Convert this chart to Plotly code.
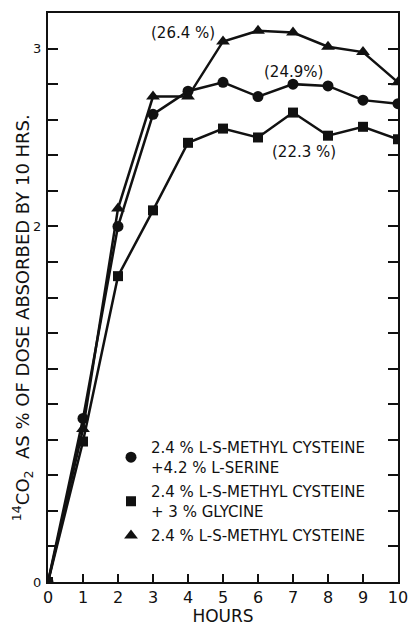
import plotly.graph_objects as go

hours = [0, 1, 2, 3, 4, 5, 6, 7, 8, 9, 10]
serine = [0, 0.92, 2.00, 2.63, 2.76, 2.81, 2.73, 2.80, 2.79, 2.71, 2.69]
glycine = [0, 0.79, 1.72, 2.09, 2.47, 2.55, 2.50, 2.64, 2.51, 2.56, 2.49]
cysteine = [0, 0.86, 2.10, 2.73, 2.73, 3.04, 3.10, 3.09, 3.01, 2.98, 2.81]

series_names = [
    "2.4 % L-S-METHYL CYSTEINE<br>+4.2 % L-SERINE",
    "2.4 % L-S-METHYL CYSTEINE<br>+ 3 % GLYCINE",
    "2.4 % L-S-METHYL CYSTEINE",
]
symbols = ["circle", "square", "triangle-up"]
marker_sizes = [11, 10, 12]

percent_labels = ["(26.4 %)", "(24.9%)", "(22.3 %)"]
percent_x = [3.86, 7.0, 7.3]
percent_y = [3.09, 2.87, 2.42]

x_ticks = list(range(0, 11))
y_tickvals = [0, 2, 3]
y_ticktext = ["0", "2", "3"]
y_title = "<sup>14</sup>CO<sub>2</sub>  AS % OF DOSE ABSORBED BY 10 HRS."
x_title = "HOURS"

FONT = "DejaVu Sans"
BLACK = "#111111"

fig = go.Figure()
for vals, name, sym, ms in zip([serine, glycine, cysteine], series_names, symbols, marker_sizes):
    fig.add_trace(go.Scatter(
        x=hours, y=vals, mode="lines+markers", showlegend=False,
        line=dict(color=BLACK, width=2.5),
        marker=dict(symbol=sym, size=ms, color=BLACK),
    ))
for i, (name, sym, ms) in enumerate(zip(series_names, symbols, marker_sizes)):
    fig.add_trace(go.Scatter(
        x=[None], y=[None], mode="markers", name=name, legendgroup=f"g{i}",
        marker=dict(symbol=sym, size=ms, color=BLACK),
    ))

for t, x, y in zip(percent_labels, percent_x, percent_y):
    fig.add_annotation(x=x, y=y, text=t, showarrow=False,
                       font=dict(family=FONT, size=15, color=BLACK))

# y-axis title placed as rotated text (shifted below plot centre as in reference)
fig.add_annotation(xref="paper", yref="paper", x=-0.072, y=0.465,
                   xanchor="center", yanchor="middle", textangle=-90,
                   text=y_title, showarrow=False,
                   font=dict(family=FONT, size=18, color=BLACK))

fig.update_layout(
    width=415, height=626,
    margin=dict(l=48, r=7, t=13, b=36),
    paper_bgcolor="white", plot_bgcolor="white",
    font=dict(family=FONT, color=BLACK),
    legend=dict(x=0.18, y=0.265, xanchor="left", yanchor="top",
                font=dict(family=FONT, size=15, color=BLACK),
                bgcolor="rgba(0,0,0,0)", itemwidth=30, tracegroupgap=2),
    xaxis=dict(
        range=[0, 10], tickvals=x_ticks, ticks="inside", ticklen=8,
        tickwidth=2, tickcolor=BLACK, showline=True, linecolor=BLACK,
        linewidth=2, mirror=True, showgrid=False, zeroline=False,
        ticklabeloverflow="allow",
        tickfont=dict(family=FONT, size=16, color=BLACK),
        title=dict(text=x_title, font=dict(family=FONT, size=17, color=BLACK), standoff=0),
    ),
    yaxis=dict(
        range=[0, 3.2], tickvals=y_tickvals, ticktext=y_ticktext,
        ticks="inside", ticklen=10, tickwidth=2, tickcolor=BLACK,
        minor=dict(dtick=0.2, ticks="inside", ticklen=10, tickwidth=2, tickcolor=BLACK),
        showline=True, linecolor=BLACK, linewidth=2, mirror="ticks",
        showgrid=False, zeroline=False, ticklabelstandoff=2,
        tickfont=dict(family=FONT, size=13, color=BLACK),
    ),
)

fig.write_html("out.html")
